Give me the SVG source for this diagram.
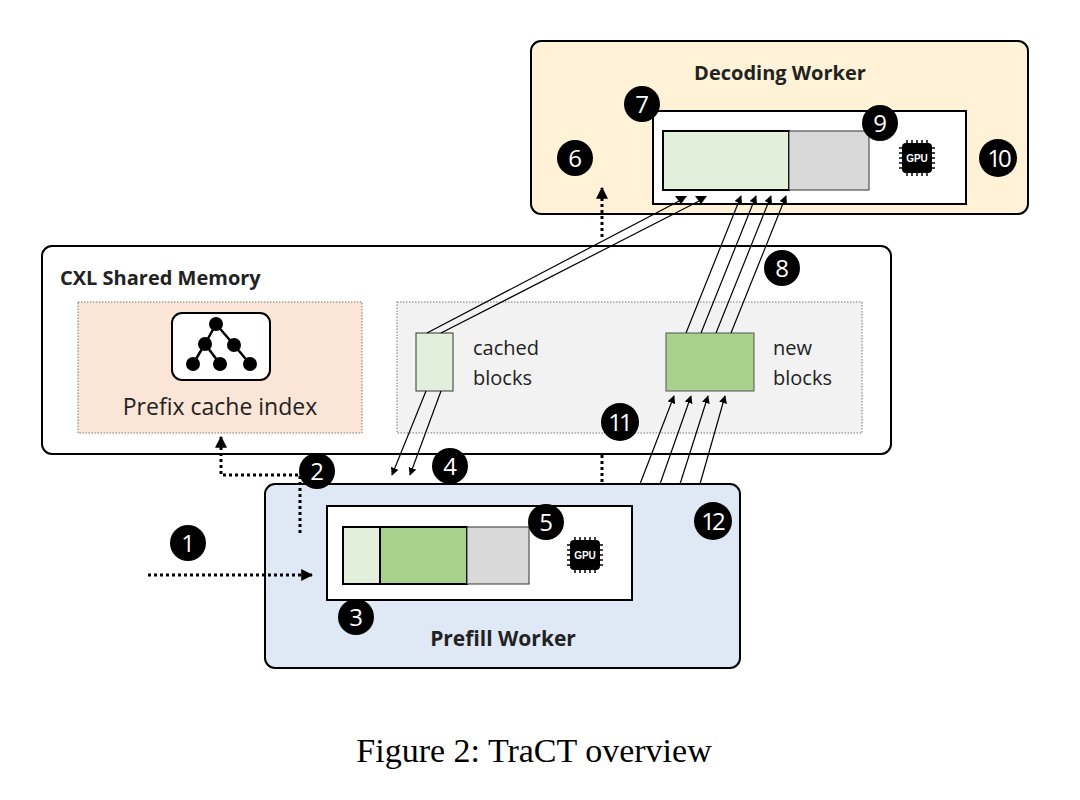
<svg xmlns="http://www.w3.org/2000/svg" width="1080" height="800" viewBox="0 0 1080 800">
<style>
.t{font-family:"Open Sans","Noto Sans",sans-serif;fill:#222}
.b{font-weight:bold}
.n{font-family:"Open Sans","Noto Sans",sans-serif;font-size:24px;fill:#fff;text-anchor:middle}
.ln{stroke:#000;stroke-width:1.2;fill:none}
.dot{stroke:#000;stroke-width:3;stroke-dasharray:3 3;fill:none}
.gl{font-family:"Liberation Sans",sans-serif;font-weight:bold;font-size:10px;fill:#fff;text-anchor:middle}
</style>
<defs>
<marker id="a" viewBox="0 0 10 10" refX="9" refY="5" markerWidth="8" markerHeight="8" markerUnits="userSpaceOnUse" orient="auto"><path d="M0,0L10,5L0,10z"/></marker>
<marker id="d" viewBox="0 0 10 10" refX="9" refY="5" markerWidth="12" markerHeight="12" markerUnits="userSpaceOnUse" orient="auto"><path d="M0,0L10,5L0,10z"/></marker>
<g id="gpu"><g stroke="#000" stroke-width="1.5"><path d="M-10,-18v4M-5,-18v4M0,-18v4M5,-18v4M10,-18v4M-10,14v4M-5,14v4M0,14v4M5,14v4M10,14v4M-18,-10h4M-18,-5h4M-18,0h4M-18,5h4M-18,10h4M14,-10h4M14,-5h4M14,0h4M14,5h4M14,10h4"/></g><rect x="-15" y="-15" width="30" height="30" rx="4"/><text class="gl" y="4">GPU</text></g>
</defs>
<g id="decoding">
<rect x="531" y="41" width="497" height="173" rx="10" fill="#fff2d6" stroke="#000" stroke-width="2"/>
<text class="t b" x="780" y="80" font-size="20" text-anchor="middle">Decoding Worker</text>
<rect x="653" y="111" width="313" height="93" fill="#fff" stroke="#000" stroke-width="2"/>
<rect x="663" y="131" width="126" height="59" fill="#e2efda" stroke="#000" stroke-width="2"/>
<rect x="789" y="131" width="80" height="59" fill="#d9d9d9" stroke="#333" stroke-width="1"/>
<use href="#gpu" x="917" y="158"/>
</g>
<g id="cxl">
<rect x="42" y="246" width="849" height="208" rx="10" fill="#fff" stroke="#000" stroke-width="2"/>
<text class="t b" x="60" y="285" font-size="20">CXL Shared Memory</text>
<rect x="78" y="302" width="284" height="131" fill="#fbe5d6" stroke="#777" stroke-dasharray="1.5 1.5"/>
<rect x="172" y="313" width="98" height="67" rx="10" fill="#fff" stroke="#000" stroke-width="2"/>
<g stroke="#000" stroke-width="2.5"><path d="M216,324L205,344L193,364M205,344L220,364M216,324L234,345L250,364"/></g>
<g><circle cx="216" cy="324" r="7"/><circle cx="205" cy="344" r="7"/><circle cx="234" cy="345" r="7"/><circle cx="193" cy="364" r="7"/><circle cx="220" cy="364" r="7"/><circle cx="250" cy="364" r="7"/></g>
<text class="t" x="220" y="415" font-size="23" text-anchor="middle">Prefix cache index</text>
<rect x="397" y="302" width="465" height="131" fill="#f2f2f2" stroke="#777" stroke-dasharray="1.5 1.5"/>
<rect x="416" y="333" width="37" height="58" fill="#e2efda" stroke="#333"/>
<text class="t" x="473" y="355" font-size="20">cached</text>
<text class="t" x="473" y="385" font-size="20">blocks</text>
<rect x="666" y="333" width="88" height="58" fill="#a9d18e" stroke="#555"/>
<text class="t" x="773" y="355" font-size="20">new</text>
<text class="t" x="773" y="385" font-size="20">blocks</text>
</g>
<g id="prefill">
<rect x="265" y="484" width="475" height="184" rx="10" fill="#dee9f5" stroke="#000" stroke-width="2"/>
<text class="t b" x="503" y="646" font-size="21" text-anchor="middle">Prefill Worker</text>
<rect x="327" y="506" width="305" height="94" fill="#fff" stroke="#000" stroke-width="2"/>
<rect x="343" y="527" width="37" height="57" fill="#e2efda" stroke="#000" stroke-width="2"/>
<rect x="380" y="527" width="87" height="57" fill="#a9d18e" stroke="#000" stroke-width="2"/>
<rect x="467" y="527" width="62" height="57" fill="#d9d9d9" stroke="#333"/>
<use href="#gpu" x="585" y="555"/>
</g>
<g id="connectors">
<path class="dot" d="M148,575H312" marker-end="url(#d)"/>
<path class="dot" d="M300,533V475H221V437" marker-end="url(#d)"/>
<path class="dot" d="M602,237V188" marker-end="url(#d)"/>
<path class="dot" d="M602,482V455"/>
<path class="ln" d="M427,333L681,200M441,333L701,200"/>
<path d="M675,196h12l-6,8zM695,196h12l-6,8z"/>
<path class="ln" d="M426,391L392,475" marker-end="url(#a)"/>
<path class="ln" d="M441,391L410,475" marker-end="url(#a)"/>
<path class="ln" d="M686,333L741,196" marker-end="url(#a)"/>
<path class="ln" d="M701,333L756,196" marker-end="url(#a)"/>
<path class="ln" d="M716,333L771,196" marker-end="url(#a)"/>
<path class="ln" d="M731,333L786,196" marker-end="url(#a)"/>
<path class="ln" d="M640,484L674,396" marker-end="url(#a)"/>
<path class="ln" d="M660,484L691,396" marker-end="url(#a)"/>
<path class="ln" d="M680,484L708,396" marker-end="url(#a)"/>
<path class="ln" d="M700,484L725,396" marker-end="url(#a)"/>
</g>
<g id="badges">
<circle cx="188" cy="543" r="18"/><text class="n" x="188" y="552">1</text>
<circle cx="317" cy="471" r="18"/><text class="n" x="317" y="480">2</text>
<circle cx="356" cy="617" r="18"/><text class="n" x="356" y="626">3</text>
<circle cx="450" cy="466" r="18"/><text class="n" x="450" y="475">4</text>
<circle cx="546" cy="522" r="18"/><text class="n" x="546" y="531">5</text>
<circle cx="575" cy="158" r="18"/><text class="n" x="575" y="167">6</text>
<circle cx="642" cy="104" r="18"/><text class="n" x="642" y="113">7</text>
<circle cx="782" cy="268" r="18"/><text class="n" x="782" y="277">8</text>
<circle cx="880" cy="123" r="18"/><text class="n" x="880" y="132">9</text>
<circle cx="998" cy="158" r="19"/><text class="n" x="998" y="167" letter-spacing="-3">10</text>
<circle cx="620" cy="422" r="19"/><text class="n" x="619" y="431" letter-spacing="-3">11</text>
<circle cx="713" cy="521" r="19"/><text class="n" x="712" y="530" letter-spacing="-3">12</text>
</g>
<text x="534" y="762" font-family="Liberation Serif,serif" font-size="34" text-anchor="middle" fill="#000">Figure 2: TraCT overview</text>
</svg>
